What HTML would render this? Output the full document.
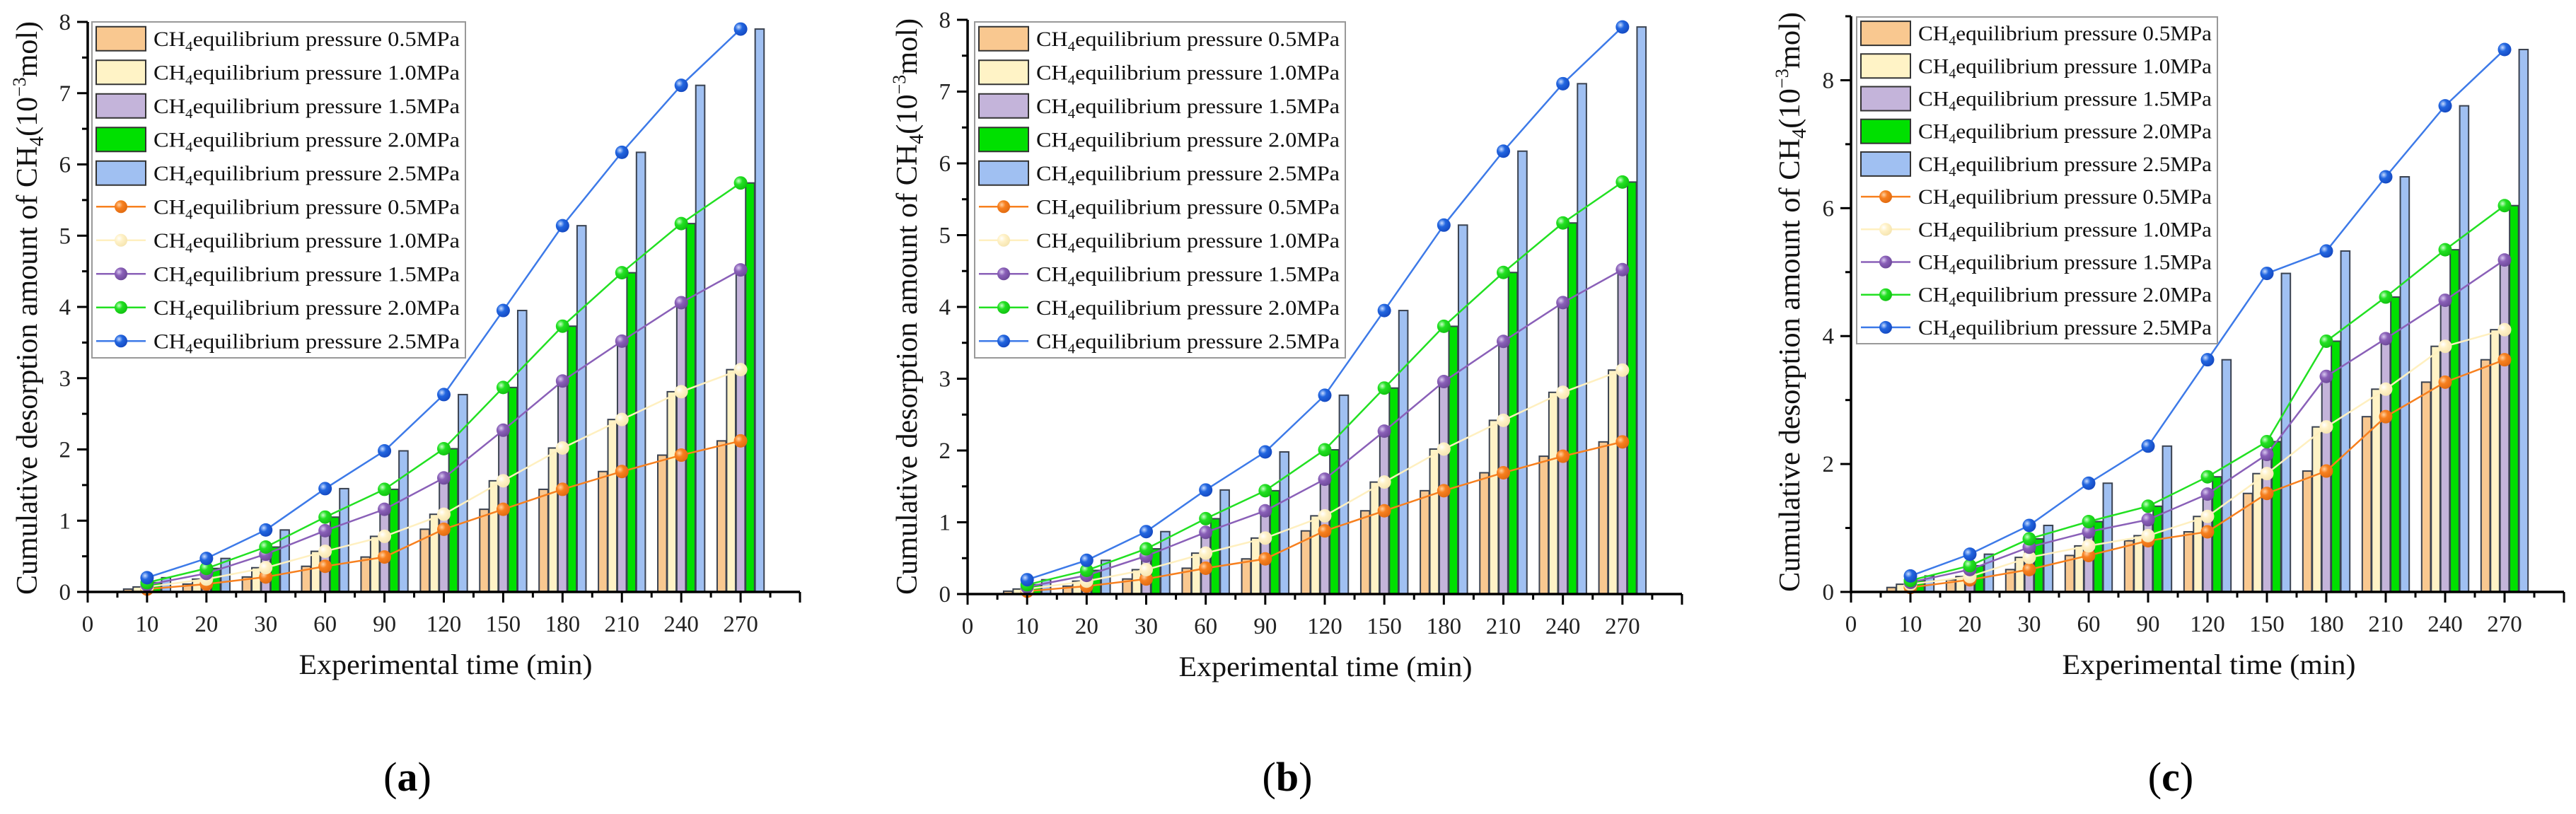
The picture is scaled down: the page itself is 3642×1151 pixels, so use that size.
<!DOCTYPE html>
<html><head><meta charset="utf-8"><style>
html,body{margin:0;padding:0;background:#fff;}
svg{display:block;font-family:"Liberation Serif",serif;}
</style></head><body>
<svg id="fig" width="3642" height="1151" viewBox="0 0 3642 1151" xmlns="http://www.w3.org/2000/svg">
<defs>
<radialGradient id="gOr" cx="0.35" cy="0.35" r="0.7"><stop offset="0" stop-color="#ffd0a0"/><stop offset="0.4" stop-color="#f7801f"/><stop offset="1" stop-color="#e06a10"/></radialGradient>
<radialGradient id="gCr" cx="0.35" cy="0.35" r="0.7"><stop offset="0" stop-color="#ffffff"/><stop offset="0.4" stop-color="#fff2c8"/><stop offset="1" stop-color="#f5e4b0"/></radialGradient>
<radialGradient id="gPu" cx="0.35" cy="0.35" r="0.7"><stop offset="0" stop-color="#d8c8f0"/><stop offset="0.4" stop-color="#8a60b8"/><stop offset="1" stop-color="#6c4898"/></radialGradient>
<radialGradient id="gGr" cx="0.35" cy="0.35" r="0.7"><stop offset="0" stop-color="#c8ffc8"/><stop offset="0.4" stop-color="#22e022"/><stop offset="1" stop-color="#10c010"/></radialGradient>
<radialGradient id="gBl" cx="0.35" cy="0.35" r="0.7"><stop offset="0" stop-color="#c8dcff"/><stop offset="0.4" stop-color="#2266e0"/><stop offset="1" stop-color="#1448c0"/></radialGradient>
</defs>
</svg>
<script>
// ---- data ----
const categories = ["10","20","30","60","90","120","150","180","210","240","270"];
const seriesLabels = ["0.5MPa","1.0MPa","1.5MPa","2.0MPa","2.5MPa"];
// panel a
const a05 = [0.04,0.11,0.21,0.36,0.49,0.88,1.16,1.44,1.69,1.92,2.12];
const a10 = [0.07,0.18,0.34,0.57,0.78,1.09,1.56,2.02,2.42,2.81,3.12];
const a15 = [0.10,0.26,0.53,0.86,1.16,1.60,2.27,2.96,3.52,4.06,4.52];
const a20 = [0.13,0.33,0.63,1.05,1.44,2.01,2.87,3.73,4.48,5.17,5.74];
const a25 = [0.20,0.47,0.87,1.45,1.98,2.77,3.95,5.14,6.17,7.11,7.90];
// panel b
const b05 = [0.04,0.11,0.21,0.36,0.49,0.88,1.16,1.44,1.69,1.92,2.12];
const b10 = [0.07,0.18,0.34,0.57,0.78,1.09,1.56,2.02,2.42,2.81,3.12];
const b15 = [0.10,0.26,0.53,0.86,1.16,1.60,2.27,2.96,3.52,4.06,4.52];
const b20 = [0.13,0.33,0.63,1.05,1.44,2.01,2.87,3.73,4.48,5.17,5.74];
const b25 = [0.20,0.47,0.87,1.45,1.98,2.77,3.95,5.14,6.17,7.11,7.90];
// panel c
const c05 = [0.07,0.19,0.35,0.57,0.80,0.94,1.54,1.89,2.74,3.28,3.63];
const c10 = [0.12,0.24,0.54,0.72,0.88,1.18,1.85,2.58,3.17,3.84,4.10];
const c15 = [0.15,0.35,0.70,0.94,1.13,1.53,2.15,3.37,3.96,4.56,5.19];
const c20 = [0.18,0.41,0.83,1.10,1.34,1.80,2.35,3.92,4.61,5.35,6.04];
const c25 = [0.25,0.59,1.04,1.70,2.28,3.63,4.98,5.33,6.49,7.60,8.48];
const yTicksAB = [0,1,2,3,4,5,6,7,8];
const yTicksC = [0,2,4,6,8];

const NS = "http://www.w3.org/2000/svg";
const svg = document.getElementById("fig");
const barFill = ["#f9c890","#fff3c6","#c4b4da","#00e000","#a0c0f2"];
const lineCol = ["#f7801f","#fff0c0","#8a60b8","#22e022","#3d7ae8"];
const grad = ["url(#gOr)","url(#gCr)","url(#gPu)","url(#gGr)","url(#gBl)"];
const offs = [-0.32,-0.16,0,0.16,0.32];

function mk(tag, attrs, parent){
  const e = document.createElementNS(NS, tag);
  for (const k in attrs) e.setAttribute(k, attrs[k]);
  (parent||svg).appendChild(e);
  return e;
}
function chText(parent, x, y, label, size, len){
  const t = mk("text",{x:x,y:y,"font-size":size,fill:"#111",textLength:len,lengthAdjust:"spacingAndGlyphs"},parent);
  
  
  const s1 = mk("tspan",{},t); s1.textContent="CH";
  const s2 = mk("tspan",{dy:7,"font-size":size*0.65},t); s2.textContent="4";
  const s3 = mk("tspan",{dy:-7},t); s3.textContent="equilibrium pressure "+label;
  return t;
}

function drawPanel(P, series, yTicks, yMinor){
  const g = mk("g",{});
  
  
  const unit = (P.x1-P.x0)/12;
  const X = i => P.x0 + i*unit;
  const Y = v => P.y0 - v*(P.y0-P.yTop)/P.ymax;
  // bars
  for (let s=0;s<5;s++){
    for (let i=0;i<categories.length;i++){
      const cx = X(i+1+offs[s]);
      const v = series[s][i];
      const r = mk("rect",{x:cx-0.075*unit,y:Y(v),width:0.15*unit,height:P.y0-Y(v),fill:barFill[s],stroke:"#3a4250","stroke-width":2},g);
      
      
    }
  }
  // lines
  for (let s=0;s<5;s++){
    const pts = series[s].map((v,i)=>X(i+1)+","+Y(v)).join(" ");
    const pl = mk("polyline",{points:pts,fill:"none",stroke:lineCol[s],"stroke-width":2.5},g);
    
    
  }
  for (let s=0;s<5;s++){
    for (let i=0;i<categories.length;i++){
      const c = mk("circle",{cx:X(i+1),cy:Y(series[s][i]),r:9.5,fill:grad[s]},g);
      
      
    }
  }
  // axes
  const ax = mk("line",{x1:P.x0,y1:P.y0,x2:P.x1,y2:P.y0,stroke:"#000","stroke-width":3.5},g);
  
  
  const ay = mk("line",{x1:P.x0,y1:P.y0+2,x2:P.x0,y2:P.yTop,stroke:"#000","stroke-width":3.5},g);
  
  
  for (let i=0;i<=12;i++){
    mk("line",{x1:X(i),y1:P.y0,x2:X(i),y2:P.y0+15,stroke:"#000","stroke-width":3},g);
    if (i<12) mk("line",{x1:X(i+0.5),y1:P.y0,x2:X(i+0.5),y2:P.y0+8,stroke:"#000","stroke-width":3},g);
    const lab = i===0 ? "0" : (i<=categories.length ? categories[i-1] : null);
    if (lab!==null){
      const t = mk("text",{x:X(i),y:P.y0+56,"font-size":33,"text-anchor":"middle",fill:"#222"},g);
      
      
      t.textContent = lab;
    }
  }
  for (const v of yTicks){
    mk("line",{x1:P.x0-15,y1:Y(v),x2:P.x0,y2:Y(v),stroke:"#000","stroke-width":3},g);
    const t = mk("text",{x:P.x0-24,y:Y(v)+11,"font-size":33,"text-anchor":"end",fill:"#222"},g);
    
    
    t.textContent = v;
  }
  for (const v of yMinor){
    mk("line",{x1:P.x0-8,y1:Y(v),x2:P.x0,y2:Y(v),stroke:"#000","stroke-width":3},g);
  }
  // titles
  const xt = mk("text",{x:P.x0+506,y:P.y0+116,"font-size":40,"text-anchor":"middle",fill:"#111",textLength:415,lengthAdjust:"spacingAndGlyphs"},g);
  
  
  xt.textContent = "Experimental time (min)";
  const yt = mk("text",{x:0,y:0,"font-size":42,"text-anchor":"middle",fill:"#111",transform:"translate("+(P.ytx)+","+((P.yt0+P.yt1)/2)+") rotate(-90)",textLength:(P.yt1-P.yt0),lengthAdjust:"spacingAndGlyphs"},g);
  
  
  const y1 = mk("tspan",{},yt); y1.textContent="Cumulative desorption amount of CH";
  const y2 = mk("tspan",{dy:9,"font-size":28},yt); y2.textContent="4";
  const y3 = mk("tspan",{dy:-9},yt); y3.textContent="(10";
  const y4 = mk("tspan",{dy:-16,"font-size":26},yt); y4.textContent="−3";
  const y5 = mk("tspan",{dy:16},yt); y5.textContent="mol)";
  const pl = mk("text",{x:P.x0+452,y:1118,"font-size":58,"text-anchor":"middle",fill:"#000"},g);
  
  
  const pa = mk("tspan",{},pl); pa.textContent="(";
  const pb = mk("tspan",{"font-weight":"bold"},pl); pb.textContent=P.id;
  const pc = mk("tspan",{},pl); pc.textContent=")";
  // legend
  const L = P.leg;
  const lb = mk("rect",{x:L.x,y:L.y,width:L.w,height:L.h,fill:"#fff",stroke:"#999","stroke-width":2},g);
  
  
  const sp = L.h/10;
  for (let k=0;k<10;k++){
    const cy = L.y + sp*(k+0.5);
    const s = k%5;
    if (k<5){
      const r = mk("rect",{x:L.x+6,y:cy-17,width:70,height:34,fill:barFill[s],stroke:"#333","stroke-width":2},g);
      
      
    } else {
      mk("line",{x1:L.x+6,y1:cy,x2:L.x+76,y2:cy,stroke:lineCol[s],"stroke-width":2.5},g);
      const c = mk("circle",{cx:L.x+41,cy:cy,r:9,fill:grad[s]},g);
      
      
    }
    chText(g, L.x+87, cy+10, seriesLabels[s], 30, L.w-95);
  }
}

drawPanel({id:"a",x0:124,x1:1131,y0:837,yTop:31,ymax:8,ytx:52,yt0:30,yt1:841,
  leg:{x:130,y:31,w:528,h:475}}, [a05,a10,a15,a20,a25], yTicksAB, [0.5,1.5,2.5,3.5,4.5,5.5,6.5,7.5]);
drawPanel({id:"b",x0:1368,x1:2378,y0:840,yTop:28,ymax:8,ytx:1296,yt0:26,yt1:841,
  leg:{x:1378,y:31,w:524,h:475}}, [b05,b10,b15,b20,b25], yTicksAB, [0.5,1.5,2.5,3.5,4.5,5.5,6.5,7.5]);
drawPanel({id:"c",x0:2617,x1:3625,y0:837,yTop:23,ymax:9,ytx:2544,yt0:17,yt1:837,
  leg:{x:2625,y:24,w:510,h:462}}, [c05,c10,c15,c20,c25], yTicksC, [1,3,5,7,9]);
</script>
</body></html>
